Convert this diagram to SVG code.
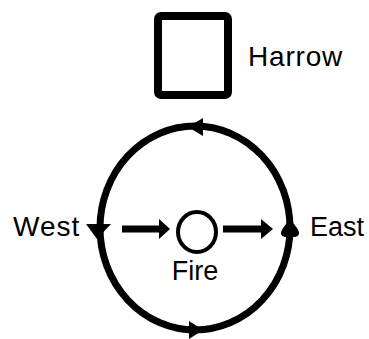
<svg xmlns="http://www.w3.org/2000/svg" width="369" height="339" viewBox="0 0 369 339">
<style>
.lbl{font-family:"Liberation Sans",Arial,sans-serif;font-size:27px;fill:#000}
.ln{fill:none;stroke:#000}
.hd{fill:#000;stroke:none}
</style>
<rect width="369" height="339" fill="#fff"/>
<g id="harrow">
<rect class="ln" x="158" y="16" width="70" height="79" rx="3" stroke-width="8"/>
<text class="lbl" x="248" y="66" style="font-size:28px;letter-spacing:0.8px">Harrow</text>
</g>
<g id="fire">
<ellipse class="ln" cx="197" cy="232" rx="19" ry="20" stroke-width="4"/>
<text class="lbl" x="195" y="280" text-anchor="middle">Fire</text>
</g>
<g id="west">
<text class="lbl" x="13" y="236" style="font-size:28px;letter-spacing:1px">West</text>
</g>
<g id="east">
<text class="lbl" x="310" y="236">East</text>
</g>
<g id="connectors">
<ellipse class="ln" cx="195" cy="228" rx="95" ry="102" stroke-width="7"/>
<polygon class="hd" points="188,127 203,118 203,136"/>
<polygon class="hd" points="86,224 111,224 97,239"/>
<path class="hd" d="M290,219 L297,228 Q302,236 295,237 L285,237 Q278,236 283,228 Z"/>
<polygon class="hd" points="203,330 189,321 189,339"/>
<line class="ln" x1="122" y1="229" x2="162" y2="229" stroke-width="7"/>
<polygon class="hd" points="170,229 159,219 159,239"/>
<line class="ln" x1="223" y1="229" x2="264" y2="229" stroke-width="7"/>
<polygon class="hd" points="273,229 261,219 261,239"/>
</g>
</svg>
